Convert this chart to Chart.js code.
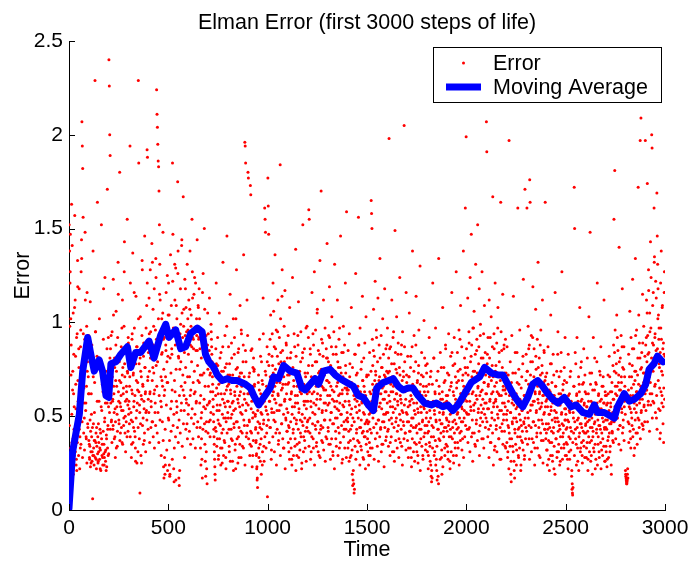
<!DOCTYPE html>
<html>
<head>
<meta charset="utf-8">
<script src="https://cdn.jsdelivr.net/npm/chart.js@4/dist/chart.umd.min.js"></script>
<style>
  html, body { margin: 0; padding: 0; background: #fff; }
  #wrap { width: 690px; height: 563px; }
</style>
</head>
<body>
<div id="wrap"><canvas id="c" width="690" height="563"></canvas></div>
<script>
// Error at odd steps, one row per block of 100 steps.
const errorOddSteps = [
  [1.52,1.38,1.21,1.47,1.02,0.88,1.63,0.36,0.31,0.74,1.05,0.62,0.43,0.29,1.57,1.12,0.82,0.54,0.27,0.21,0.94,1.33,0.69,0.47,0.86,1.18,0.58,0.39,0.33,0.96,1.27,1.44,2.07,1.94,1.82,1.56,0.73,0.65,0.49,0.91,1.48,0.83,0.57,0.38,0.98,1.16,0.79,0.44,0.71,0.93],
  [0.62,0.28,0.34,1.11,0.42,0.25,0.51,0.88,0.31,0.06,1.38,0.46,0.29,0.37,0.68,2.29,0.95,0.36,0.27,0.44,0.82,1.64,0.39,0.26,0.31,0.58,1.02,0.33,0.22,0.41,0.74,1.52,0.53,0.35,0.28,0.63,0.91,0.30,0.24,0.47,1.24,0.57,0.32,0.21,0.38,0.86,1.71,0.43,0.29,0.55],
  [2.40,2.26,2.00,1.89,0.86,0.61,0.47,0.72,0.95,0.58,0.43,1.23,0.66,0.52,0.81,0.39,0.28,0.69,1.06,0.74,0.55,0.34,0.92,1.32,0.63,0.48,0.79,1.80,0.57,0.41,0.68,0.87,0.53,0.36,1.12,0.76,0.62,0.45,0.98,1.43,0.71,0.50,0.31,0.84,0.66,0.59,1.55,0.73,0.42,0.89],
  [0.77,0.54,0.66,1.94,1.21,0.83,0.48,0.35,0.91,0.62,1.37,0.72,0.44,0.58,0.97,0.81,0.39,0.26,1.14,0.69,0.53,0.87,0.64,0.31,2.29,1.85,0.78,0.56,0.09,1.03,0.74,0.61,0.25,0.93,1.28,0.67,0.49,0.82,0.58,0.37,1.46,0.76,0.63,0.52,0.88,1.09,1.92,1.88,0.71,0.59],
  [0.86,1.13,0.74,0.62,1.28,0.95,0.58,0.81,1.42,0.69,0.47,1.07,0.88,0.73,1.18,0.64,0.52,0.96,1.34,0.77,2.24,2.11,2.04,1.95,1.86,1.83,1.70,1.52,1.31,1.12,0.93,0.71,0.55,1.02,0.84,0.66,1.48,0.91,0.75,0.61,0.28,0.19,0.24,0.88,1.16,0.97,0.79,1.25,0.68,1.04],
  [1.21,0.92,0.24,0.18,0.81,1.36,0.73,1.09,0.86,0.64,1.85,1.47,0.97,0.22,0.15,0.69,1.12,0.88,1.29,0.75,0.58,1.02,0.91,1.75,1.38,0.82,0.17,0.13,0.21,0.94,1.18,0.79,0.66,1.41,1.05,0.87,0.72,1.67,0.98,0.61,0.84,1.23,0.93,0.76,1.08,0.57,0.89,1.31,0.71,0.96],
  [0.83,1.12,0.95,0.71,1.38,0.88,0.64,1.04,0.79,1.55,1.27,0.92,0.68,0.86,1.15,0.74,0.97,0.63,1.21,0.85,0.58,0.93,1.44,0.77,0.69,1.08,0.91,1.18,1.02,0.86,0.72,0.61,0.49,0.38,0.27,0.17,0.96,1.26,0.89,0.73,1.50,1.07,0.66,0.54,0.42,0.31,0.22,0.14,0.88,0.75],
  [0.94,0.81,0.57,1.13,0.72,0.48,0.63,0.99,0.91,0.83,0.75,0.67,0.59,0.51,0.43,0.35,0.27,0.19,0.44,0.86,1.21,0.65,0.53,0.38,0.77,0.62,0.29,0.46,1.05,0.71,0.56,0.33,0.84,0.68,0.41,0.25,0.59,1.32,0.74,0.49,0.37,0.62,0.93,0.55,0.28,0.47,0.78,1.46,0.66,0.52],
  [0.58,0.87,0.43,0.31,0.72,1.15,0.64,0.49,0.38,0.81,0.57,0.26,0.69,1.02,0.53,0.44,0.92,0.61,0.35,0.22,0.75,1.28,0.66,0.47,0.59,0.84,0.39,0.28,0.71,0.55,1.09,0.63,0.42,0.96,0.73,0.51,0.34,0.68,0.88,1.36,0.62,0.45,1.96,1.94,1.85,0.79,0.57,0.41,0.66,0.93],
  [1.80,1.77,0.62,0.48,0.73,0.35,1.73,1.68,0.54,0.41,0.86,0.66,0.29,0.52,0.81,0.74,0.66,0.58,0.50,0.43,0.36,0.29,0.22,0.16,0.12,0.47,0.68,0.33,0.57,0.91,0.44,0.26,0.62,0.38,0.79,0.51,0.24,0.67,1.13,0.46,0.34,0.58,1.61,1.55,1.48,0.72,0.53,0.41,0.87,0.07],
  [1.77,1.62,1.47,0.83,0.58,0.44,0.71,1.04,0.66,0.32,0.52,0.94,0.77,1.21,0.63,0.48,0.87,0.59,1.36,0.75,0.41,0.96,0.68,0.53,0.82,1.12,0.61,0.37,0.73,0.92,0.56,1.84,1.02,0.79,0.64,0.46,1.28,0.85,0.67,0.33,0.71,0.98,0.58,1.17,0.76,0.49,0.89,0.62,0.42,0.81],
  [0.67,0.93,0.45,0.31,0.72,1.08,0.59,0.38,0.84,0.62,0.27,0.51,1.24,0.76,0.43,0.69,0.94,0.55,0.34,0.61,1.39,0.82,0.48,0.29,0.66,0.57,0.88,1.11,0.52,0.36,0.74,0.63,0.41,0.95,0.68,0.22,0.47,0.81,1.52,0.64,0.39,0.58,0.86,0.49,0.33,0.71,0.97,0.54,0.44,0.62],
  [0.73,0.48,0.92,1.60,1.55,0.67,0.41,0.83,0.58,0.31,0.69,1.16,0.77,0.52,0.38,0.88,0.63,1.27,0.71,0.45,0.96,0.56,0.34,0.79,1.05,0.62,0.47,0.85,0.68,0.29,0.74,1.33,0.59,0.43,1.70,0.91,0.66,0.53,0.36,0.82,1.12,0.64,0.48,0.75,0.97,0.57,0.39,0.86,0.69,1.42],
  [0.81,0.56,0.42,0.93,0.68,1.19,0.61,0.35,0.77,0.52,0.87,1.03,0.64,0.46,0.29,0.72,0.95,0.58,1.31,0.74,0.49,0.38,0.83,0.66,0.54,1.12,0.79,0.44,0.61,0.91,0.33,0.57,0.76,1.46,0.69,0.51,0.84,0.62,0.27,0.71,0.98,0.55,0.43,0.88,0.65,1.21,0.73,0.48,1.59,0.64],
  [0.62,0.47,0.85,0.36,0.58,0.94,0.71,0.28,0.43,0.67,1.08,0.54,0.32,0.76,0.49,0.21,0.14,0.09,0.11,0.59,0.83,1.26,0.65,0.41,0.52,0.73,0.37,0.61,1.56,0.88,0.56,0.44,0.97,0.63,0.34,0.48,0.79,0.58,1.14,0.69,0.42,0.27,0.66,0.51,0.89,0.39,0.61,1.03,0.47,0.72],
  [0.55,0.38,0.46,0.72,0.29,0.51,0.84,0.43,0.33,0.62,1.65,1.58,1.50,0.91,0.77,0.64,1.07,0.58,0.82,0.69,1.22,0.74,0.53,0.96,0.67,0.41,0.79,1.13,0.62,0.48,0.88,0.71,1.34,0.57,0.44,0.93,0.76,0.35,0.65,1.02,0.59,0.83,0.47,0.72,1.18,0.63,0.51,0.86,0.39,0.74],
  [0.68,0.97,0.52,0.43,0.81,1.98,0.74,0.58,0.36,0.87,0.63,0.49,1.12,0.71,0.55,0.92,0.66,0.31,0.78,0.59,1.49,0.84,0.47,0.62,1.03,0.73,0.42,0.56,0.89,0.65,0.38,0.76,1.24,0.61,0.48,0.83,0.57,0.34,0.69,0.95,0.52,0.74,0.45,2.05,0.87,0.63,0.41,0.59,1.16,0.72],
  [0.64,0.47,0.82,0.55,0.33,0.71,1.05,0.58,0.42,0.76,0.61,0.28,0.49,0.87,1.38,0.66,0.44,0.57,0.93,0.36,0.62,0.51,0.79,1.14,0.45,0.31,0.68,0.54,0.25,0.73,0.96,0.59,0.43,1.30,0.67,0.38,0.52,0.84,0.61,0.47,0.29,0.71,0.55,1.01,0.63,0.41,0.58,0.77,0.35,0.66],
  [0.52,0.78,0.41,0.63,0.29,0.47,0.92,0.56,0.34,0.71,0.24,0.18,0.15,0.45,0.67,1.21,0.58,0.39,0.81,0.53,0.31,0.62,0.97,0.48,0.27,0.21,0.16,0.55,0.74,0.43,1.34,0.66,0.52,0.37,0.84,0.59,0.46,0.28,0.19,0.63,1.08,0.51,0.42,0.76,0.57,0.33,0.69,0.88,0.44,0.61],
  [0.58,0.42,0.73,0.31,0.55,0.94,0.47,0.64,0.26,0.51,0.82,0.39,0.68,1.16,0.53,0.44,0.77,0.29,0.61,0.92,0.48,0.36,0.71,0.57,1.27,0.65,0.43,0.84,0.52,0.33,0.69,0.96,0.58,0.41,0.75,1.09,0.62,0.47,0.87,0.54,0.38,0.72,1.38,0.66,0.49,0.81,0.59,1.61,0.73,1.99],
  [0.86,0.64,0.51,1.13,0.72,0.43,0.95,0.67,0.58,1.24,0.79,0.53,1.47,0.88,0.62,0.41,0.97,0.74,0.56,1.06,0.69,0.35,0.83,1.31,0.61,0.48,0.91,0.73,1.52,0.66,0.54,0.87,1.18,0.71,0.45,0.99,0.63,0.81,0.52,1.27,0.76,0.59,0.38,0.94,0.68,1.09,0.57,0.84,0.72,0.49],
  [2.07,1.91,0.78,0.54,0.92,0.67,0.43,1.12,0.81,0.59,0.36,0.74,1.03,0.62,0.49,0.87,1.67,0.71,0.55,0.94,0.32,0.66,1.21,0.58,0.77,0.45,0.89,0.63,0.51,1.08,0.72,0.38,0.84,0.61,0.27,0.69,1.64,0.95,0.53,0.42,0.76,1.15,0.64,0.48,0.86,0.57,0.73,0.34,0.91,0.62],
  [0.65,0.48,0.87,0.53,0.31,0.72,0.44,1.97,0.61,0.38,0.79,0.52,0.26,0.68,0.93,0.47,0.34,0.59,1.14,0.56,0.21,0.17,0.41,0.73,0.49,0.62,0.32,0.84,0.55,1.61,0.43,0.28,0.67,0.51,0.96,0.39,0.58,0.24,0.45,0.71,0.53,0.36,0.82,1.23,0.47,0.61,0.29,1.71,0.57,0.44],
  [0.83,0.61,1.61,0.74,0.52,0.98,0.67,0.45,0.88,1.76,1.64,0.72,0.56,0.93,0.64,0.38,0.79,1.19,0.58,0.47,0.86,0.69,0.33,0.62,1.07,0.75,0.53,0.41,0.91,0.66,1.32,0.57,0.44,0.81,0.63,0.28,0.72,0.96,0.55,0.48,0.77,1.12,0.61,0.37,0.68,0.85,0.52,0.43,1.64,0.71],
  [0.58,0.41,0.73,0.32,0.55,0.87,0.46,0.27,0.64,0.51,0.36,0.78,1.04,0.53,0.42,0.68,0.29,0.57,0.83,0.44,0.22,0.61,0.49,1.16,0.66,0.38,0.52,0.74,0.31,0.59,0.95,0.47,0.35,0.71,0.56,0.43,0.26,0.62,0.84,0.51,1.27,0.58,0.39,0.67,0.45,0.33,0.76,0.54,0.92,0.48],
  [0.51,0.36,0.68,0.44,0.27,0.59,0.83,0.47,0.31,0.62,0.52,0.38,0.74,0.55,0.42,0.21,0.14,0.08,0.12,0.49,0.66,1.72,1.50,0.57,0.43,0.78,0.35,0.61,0.92,0.48,0.26,0.54,0.71,0.39,0.63,1.08,0.46,0.33,0.58,0.79,0.44,0.29,0.67,0.53,0.37,0.86,0.56,0.41,0.72,0.49],
  [0.46,0.62,0.33,0.55,0.81,0.42,0.27,0.58,1.03,0.48,0.36,1.48,0.67,0.51,0.29,0.73,0.44,0.57,0.39,0.92,0.53,0.31,0.64,0.47,0.22,0.68,0.56,0.41,0.79,1.21,0.52,0.35,0.61,0.45,0.28,0.74,0.58,0.43,0.87,0.54,0.32,0.66,0.49,0.38,0.71,0.57,1.12,0.44,0.26,0.63],
  [0.48,0.34,0.61,0.43,0.27,0.57,0.72,0.39,0.51,0.82,0.46,0.31,0.63,0.55,0.24,0.47,0.68,0.41,0.37,0.59,0.88,1.55,0.74,1.81,0.96,0.62,0.53,0.78,1.04,0.66,0.49,0.85,0.58,0.72,1.40,0.64,0.45,0.81,0.57,0.93,0.68,0.52,1.18,0.76,0.44,0.63,0.87,0.55,0.71,0.59],
  [0.21,0.18,0.16,0.14,0.15,0.19,0.17,0.58,0.83,0.46,0.71,1.06,0.54,0.38,0.92,0.65,0.49,0.77,1.23,0.61,0.43,0.86,0.57,0.33,0.69,1.34,0.74,0.52,0.96,0.63,0.41,0.81,1.72,0.67,0.48,0.89,0.59,1.97,0.75,2.09,0.53,0.84,0.62,1.15,0.45,0.73,0.98,0.56,0.68,0.82],
  [1.97,0.88,0.64,1.12,0.79,1.74,0.93,0.56,1.28,0.84,0.71,1.05,0.62,1.43,0.97,0.76,2.00,1.93,0.89,0.58,1.16,0.81,1.61,1.35,0.92,0.67,1.22,0.85,0.49,1.69,1.46,1.31,1.18,1.04,0.91,0.78,0.65,0.53,0.41,0.97,1.38,0.74,0.61,1.09,0.86,0.55,0.36,0.83,1.27,0.79]
];

// Error at even steps, one row per block of 100 steps.
const errorEvenSteps = [
  [0.45,0.98,1.27,0.33,0.72,0.26,0.51,1.41,0.64,0.38,0.19,0.83,0.55,1.08,0.42,0.31,0.67,0.24,0.92,0.48,0.36,1.19,0.58,0.29,0.76,0.43,0.22,0.61,0.87,0.35,0.52,1.34,0.47,0.28,0.69,0.94,0.41,0.57,0.32,0.81,1.12,0.53,0.39,0.66,0.25,0.74,0.46,0.88,0.62,0.37],
  [0.35,0.27,0.48,0.23,0.31,0.62,0.39,0.26,0.44,0.29,0.71,0.33,0.24,0.52,0.37,0.28,0.95,0.41,0.22,0.34,0.58,0.30,0.25,0.46,0.36,0.81,0.27,0.43,0.32,0.21,0.55,0.38,0.29,0.67,0.24,0.42,1.18,0.35,0.28,0.49,0.31,0.26,0.74,0.40,0.23,0.57,0.33,0.45,0.92,0.30],
  [0.64,0.52,0.81,0.43,0.57,0.93,0.48,0.36,0.71,0.59,0.45,1.04,0.62,0.38,0.76,0.54,0.47,0.88,0.33,0.66,0.51,0.42,0.79,1.15,0.58,0.46,0.69,0.37,0.84,0.55,0.61,0.44,0.97,0.72,0.35,0.53,0.65,0.49,1.27,0.78,0.41,0.58,0.86,0.47,0.63,0.39,0.74,0.56,0.92,0.51],
  [0.58,0.46,0.71,0.39,0.83,0.52,0.28,0.64,0.94,0.47,0.36,0.73,0.55,1.16,0.42,0.61,0.33,0.78,0.49,0.87,0.25,0.57,0.68,0.44,1.02,0.63,0.38,0.52,0.81,0.46,0.29,0.71,0.59,1.33,0.45,0.66,0.35,0.89,0.54,0.41,0.76,0.62,0.31,0.97,0.53,0.48,1.21,0.69,0.43,0.84],
  [0.52,0.94,0.36,0.63,0.81,0.44,0.55,0.88,0.47,1.32,0.76,0.39,0.98,0.62,0.33,0.84,0.57,0.45,1.24,0.91,0.66,0.41,0.79,0.52,1.02,0.36,0.61,1.15,0.48,0.94,0.58,0.29,0.83,0.69,0.47,1.05,0.37,0.23,0.17,0.92,0.64,0.43,0.71,0.85,0.56,0.32,0.68,0.21,0.82,0.49],
  [0.48,1.04,0.37,0.19,0.93,0.54,0.42,0.58,0.83,0.27,1.22,0.45,0.96,0.51,0.33,1.31,0.63,0.39,0.16,1.09,0.52,0.55,0.44,1.26,0.36,0.81,0.48,0.61,0.75,0.41,0.99,0.53,0.57,1.44,0.34,0.92,0.64,0.46,1.07,0.53,0.28,0.68,1.18,0.43,0.59,0.95,0.46,0.38,1.02,0.51],
  [0.56,0.94,0.42,1.07,0.61,0.35,0.98,0.49,0.87,0.54,1.13,0.38,0.91,0.46,0.62,1.24,0.51,0.33,0.96,0.57,1.02,0.44,0.85,0.47,1.09,0.39,0.92,0.68,0.57,0.44,0.33,0.24,0.81,0.52,0.72,1.16,0.43,0.86,0.55,0.59,0.46,0.35,0.26,0.18,0.93,0.47,0.82,0.56,1.05,0.41],
  [0.66,0.47,0.85,0.58,0.39,0.73,0.52,0.95,0.87,0.79,0.71,0.63,0.55,0.47,0.39,0.31,0.23,0.16,0.61,0.42,0.78,0.34,0.56,0.92,0.48,0.27,0.67,0.53,0.38,0.81,0.45,0.24,0.62,0.74,0.33,0.51,0.87,0.43,0.29,0.69,0.57,0.36,0.76,0.49,0.22,0.64,0.98,0.41,0.58,0.72],
  [0.49,0.67,0.34,0.78,0.55,0.26,0.62,0.43,0.89,0.51,0.37,0.72,0.58,0.21,0.46,0.83,0.63,0.32,0.54,1.02,0.47,0.69,0.38,0.76,0.25,0.57,0.86,0.44,0.61,0.35,0.73,0.52,0.28,0.94,0.66,0.41,0.56,0.79,0.33,0.48,0.71,0.59,0.24,0.85,0.53,0.39,0.67,1.12,0.45,0.62],
  [0.56,0.38,0.71,0.47,0.29,0.63,0.42,0.85,0.34,0.58,0.23,0.49,0.76,0.37,0.61,0.75,0.67,0.59,0.51,0.44,0.37,0.30,0.23,0.17,0.53,0.41,0.72,0.28,0.64,0.46,0.35,0.82,0.52,0.19,0.43,0.69,0.31,0.57,0.94,0.48,0.26,0.62,0.39,0.74,0.55,0.33,0.66,0.45,0.79,0.51],
  [0.63,0.48,0.77,0.36,0.58,0.91,0.44,0.69,0.27,0.54,0.82,0.61,0.39,0.73,1.06,0.52,0.31,0.66,0.47,0.86,0.57,0.24,0.71,0.43,0.95,0.62,0.35,0.78,0.53,0.41,0.68,0.29,0.84,0.56,0.46,1.14,0.65,0.38,0.74,0.51,0.33,0.79,0.59,0.22,0.67,0.48,0.88,0.54,0.42,0.72],
  [0.52,0.36,0.68,0.44,0.27,0.59,0.81,0.47,0.33,0.63,0.24,0.55,0.74,0.41,0.29,0.66,0.49,0.87,0.38,0.57,0.21,0.46,0.72,0.35,0.61,0.93,0.43,0.28,0.54,0.69,0.32,0.48,0.79,0.39,0.62,0.25,0.51,0.84,0.45,0.31,0.67,0.56,0.37,0.73,0.42,0.58,0.26,0.64,0.98,0.47],
  [0.58,0.42,0.77,0.34,0.63,0.49,0.86,0.27,0.55,0.71,0.39,0.62,0.46,0.94,0.33,0.57,0.68,0.24,0.51,0.79,0.43,0.66,0.36,0.59,1.07,0.47,0.31,0.73,0.54,0.41,0.83,0.28,0.61,0.45,0.75,0.37,0.52,0.89,0.44,0.65,0.32,0.57,0.72,0.48,0.26,0.64,0.53,0.81,0.38,0.69],
  [0.61,0.44,0.79,0.35,0.57,0.92,0.48,0.27,0.66,0.52,0.38,0.74,0.59,0.31,0.83,0.46,0.63,0.22,0.55,0.71,0.42,0.87,0.34,0.58,0.49,0.68,0.29,0.76,0.53,0.41,0.97,0.62,0.36,0.51,0.73,0.45,0.25,0.64,0.56,0.84,0.39,0.47,0.69,0.33,0.58,0.77,0.43,0.28,0.65,0.52],
  [0.49,0.33,0.64,0.42,0.26,0.56,0.78,0.37,0.51,0.29,0.68,0.45,0.19,0.13,0.16,0.38,0.61,0.47,0.83,0.34,0.55,0.27,0.72,0.43,0.58,0.31,0.66,0.49,0.88,0.36,0.53,0.24,0.62,0.44,0.75,0.32,0.57,0.41,0.69,0.28,0.52,0.81,0.39,0.63,0.46,0.22,0.59,0.35,0.71,0.48],
  [0.42,0.31,0.56,0.24,0.47,0.36,0.63,0.29,0.52,0.74,0.41,0.58,0.33,0.67,0.49,0.85,0.44,0.27,0.61,0.53,0.38,0.72,0.46,0.92,0.57,0.34,0.64,0.48,0.26,0.69,0.55,0.39,0.81,0.43,0.62,0.31,0.54,0.76,0.47,0.35,0.66,0.51,0.23,0.59,0.44,0.71,0.37,0.63,0.52,0.88],
  [0.57,0.42,0.73,0.34,0.61,0.48,0.86,0.29,0.55,0.67,0.39,0.78,0.46,0.31,0.63,0.52,0.95,0.44,0.26,0.69,0.54,0.37,0.75,0.49,0.62,0.33,0.58,0.83,0.45,0.28,0.66,0.51,0.72,0.36,0.59,0.43,0.88,0.53,0.24,0.64,0.47,0.71,0.38,0.56,0.79,0.41,0.65,0.32,0.52,0.68],
  [0.51,0.37,0.64,0.28,0.47,0.71,0.42,0.56,0.33,0.82,0.45,0.23,0.59,0.38,0.67,0.49,0.31,0.74,0.53,0.26,0.62,0.44,0.88,0.35,0.57,0.41,0.69,0.29,0.52,0.77,0.46,0.36,0.63,0.21,0.55,0.43,0.72,0.34,0.58,0.48,0.27,0.66,0.39,0.54,0.81,0.45,0.32,0.61,0.49,0.73],
  [0.45,0.31,0.58,0.22,0.42,0.67,0.36,0.53,0.26,0.49,0.74,0.39,0.21,0.17,0.33,0.56,0.44,0.81,0.29,0.51,0.63,0.37,0.24,0.47,0.69,0.34,0.57,0.43,0.18,0.14,0.38,0.62,0.48,0.27,0.55,0.41,0.76,0.32,0.46,0.59,0.23,0.52,0.39,0.68,0.44,0.29,0.57,0.86,0.35,0.49],
  [0.48,0.34,0.61,0.27,0.45,0.72,0.39,0.56,0.22,0.43,0.66,0.31,0.52,0.84,0.38,0.47,0.63,0.25,0.54,0.41,0.78,0.33,0.59,0.46,0.29,0.68,0.51,0.36,0.74,0.44,0.57,0.24,0.49,0.91,0.37,0.62,0.42,0.55,0.32,0.69,0.47,0.58,0.28,0.64,0.53,0.39,0.76,0.45,0.61,0.52],
  [0.58,0.43,0.76,0.36,0.62,0.51,0.89,0.44,0.31,0.67,0.55,0.82,0.39,0.71,0.48,0.26,0.63,0.97,0.53,0.41,0.74,0.57,0.34,0.69,0.46,0.85,0.59,0.37,0.65,0.52,0.78,0.42,0.29,0.61,0.93,0.49,0.56,0.72,0.38,0.64,0.47,0.81,0.54,0.33,0.68,0.51,0.76,0.44,0.62,0.57],
  [0.62,0.47,0.83,0.39,0.66,0.54,0.28,0.71,0.58,0.92,0.45,0.36,0.69,0.52,0.77,0.41,0.63,0.24,0.57,0.86,0.48,0.34,0.74,0.59,0.43,0.68,0.31,0.55,0.97,0.49,0.62,0.38,0.79,0.53,0.44,0.72,0.27,0.61,0.85,0.46,0.57,0.35,0.66,0.51,0.88,0.42,0.64,0.55,0.33,0.73],
  [0.51,0.36,0.67,0.28,0.45,0.58,0.22,0.41,0.63,0.34,0.52,0.19,0.15,0.38,0.57,0.46,0.73,0.31,0.49,0.26,0.62,0.43,0.84,0.35,0.54,0.24,0.47,0.68,0.39,0.56,0.29,0.75,0.44,0.33,0.59,0.48,0.21,0.65,0.37,0.53,0.42,0.78,0.32,0.57,0.46,0.27,0.61,0.49,0.38,0.69],
  [0.57,0.42,0.74,0.35,0.61,0.49,0.86,0.38,0.27,0.65,0.53,0.79,0.44,0.31,0.68,0.56,0.92,0.47,0.36,0.71,0.58,0.24,0.63,0.45,0.82,0.52,0.39,0.67,0.33,0.59,0.76,0.48,0.29,0.62,0.54,0.88,0.41,0.66,0.37,0.57,0.73,0.46,0.25,0.61,0.51,0.84,0.43,0.69,0.55,0.38],
  [0.46,0.32,0.59,0.24,0.43,0.67,0.37,0.51,0.21,0.44,0.63,0.29,0.55,0.78,0.36,0.48,0.26,0.61,0.41,0.72,0.34,0.53,0.19,0.47,0.66,0.38,0.57,0.28,0.49,0.83,0.42,0.31,0.62,0.45,0.24,0.56,0.39,0.74,0.33,0.52,0.46,0.27,0.64,0.41,0.58,0.35,0.69,0.48,0.29,0.54],
  [0.43,0.29,0.57,0.35,0.48,0.22,0.61,0.39,0.53,0.27,0.71,0.44,0.32,0.58,0.18,0.11,0.09,0.36,0.52,0.41,0.66,0.29,0.47,0.84,0.38,0.55,0.24,0.62,0.44,0.33,0.58,0.49,0.21,0.67,0.41,0.54,0.31,0.76,0.46,0.36,0.59,0.25,0.51,0.42,0.68,0.34,0.57,0.28,0.63,0.45],
  [0.41,0.28,0.55,0.36,0.47,0.21,0.62,0.39,0.52,0.31,0.73,0.44,0.26,0.58,0.37,0.49,0.19,0.64,0.42,0.33,0.56,0.46,0.81,0.35,0.51,0.27,0.67,0.43,0.57,0.24,0.48,0.39,0.62,0.31,0.54,0.45,0.72,0.36,0.22,0.59,0.41,0.51,0.29,0.66,0.47,0.34,0.57,0.43,0.26,0.61],
  [0.44,0.31,0.56,0.23,0.48,0.37,0.62,0.28,0.53,0.41,0.71,0.34,0.57,0.46,0.19,0.63,0.42,0.52,0.77,0.36,0.59,0.47,0.84,0.55,0.66,0.38,0.73,0.49,0.61,0.92,0.52,0.43,0.68,0.35,0.79,0.56,0.45,0.64,0.32,0.71,0.54,0.87,0.41,0.62,0.48,0.75,0.37,0.58,0.66,0.51],
  [0.19,0.17,0.15,0.14,0.16,0.22,0.47,0.64,0.36,0.55,0.78,0.42,0.61,0.33,0.52,0.71,0.45,0.86,0.39,0.58,0.67,0.29,0.54,0.74,0.48,0.93,0.41,0.63,0.56,0.35,0.72,0.49,0.61,1.04,0.44,0.57,0.81,0.38,0.66,0.52,0.76,0.46,0.59,0.89,0.43,0.68,0.55,0.73,0.47,0.62],
  [0.71,0.53,0.92,0.64,1.05,0.47,0.83,0.58,1.17,0.76,0.42,0.95,0.68,0.56,1.24,0.81,0.62,0.49,1.09,0.74,0.88,0.57,1.32,0.66,0.94,0.52,0.79,1.13,0.61,0.43,0.86,1.02,0.69,0.54,0.97,0.76,0.38,0.84,1.21,0.63,0.91,0.57,1.08,0.72,0.46,0.89,0.65,1.16,0.59,0.82]
];

// Moving average of the error, sampled along time.
const avgTime = [0,18,52,69,94,110,127,152,169,186,200,211,236,261,294,311,336,361,403,428,461,487,503,537,562,587,612,646,670,687,704,729,746,771,796,821,846,888,913,930,955,980,1013,1030,1055,1080,1114,1147,1172,1189,1214,1239,1256,1281,1314,1340,1365,1398,1431,1456,1481,1507,1532,1549,1582,1632,1657,1682,1707,1732,1757,1790,1824,1849,1882,1907,1932,1958,1991,2025,2067,2092,2126,2159,2184,2209,2234,2259,2284,2309,2334,2359,2384,2410,2435,2460,2493,2527,2552,2586,2619,2644,2661,2694,2728,2745,2761,2795,2820,2845,2878,2903,2920,2945,2962,2979,2990];
const avgValue = [0.01,0.31,0.51,0.74,0.92,0.83,0.74,0.80,0.74,0.61,0.60,0.78,0.79,0.83,0.87,0.76,0.84,0.84,0.90,0.81,0.93,0.99,0.92,0.96,0.86,0.87,0.94,0.97,0.95,0.83,0.79,0.76,0.72,0.69,0.70,0.69,0.69,0.67,0.65,0.61,0.56,0.60,0.65,0.71,0.70,0.77,0.74,0.73,0.65,0.64,0.67,0.70,0.67,0.74,0.75,0.72,0.70,0.68,0.66,0.61,0.60,0.56,0.53,0.65,0.68,0.70,0.66,0.64,0.65,0.65,0.61,0.57,0.56,0.57,0.55,0.56,0.53,0.56,0.62,0.68,0.71,0.76,0.73,0.72,0.72,0.67,0.62,0.58,0.55,0.60,0.67,0.69,0.66,0.62,0.59,0.57,0.60,0.55,0.56,0.52,0.51,0.56,0.52,0.52,0.50,0.49,0.55,0.62,0.58,0.59,0.62,0.67,0.75,0.78,0.82,0.80,0.79];

const xTicks = [0, 500, 1000, 1500, 2000, 2500, 3000];
const yTicks = [0, 0.5, 1, 1.5, 2, 2.5];

const TITLE = 'Elman Error (first 3000 steps of life)';
const X_LABEL = 'Time';
const Y_LABEL = 'Error';
const FONT = '"Liberation Sans", Arial, Helvetica, sans-serif';

const BLOCK = 100, SPACING = 2;
const errorPoints = [];
function addRows(rows, firstStep) {
  rows.forEach((row, b) => {
    row.forEach((v, j) => errorPoints.push({ x: b * BLOCK + firstStep + j * SPACING, y: v }));
  });
}
addRows(errorOddSteps, 1);
addRows(errorEvenSteps, 2);

const n = Math.min(avgTime.length, avgValue.length);
const avgPoints = [];
for (let i = 0; i < n; i++) avgPoints.push({ x: avgTime[i], y: avgValue[i] });

// Inward tick marks, titles and the boxed legend.
const decorations = {
  id: 'decorations',
  afterDatasetsDraw(chart) {
    const { ctx, chartArea: a, scales } = chart;
    ctx.save();
    ctx.strokeStyle = '#000';
    ctx.lineWidth = 1;
    ctx.beginPath();
    xTicks.forEach(t => {
      const x = Math.round(scales.x.getPixelForValue(t)) + 0.5;
      ctx.moveTo(x, a.bottom); ctx.lineTo(x, a.bottom - 6);
    });
    yTicks.forEach(t => {
      const y = Math.round(scales.y.getPixelForValue(t)) + 0.5;
      ctx.moveTo(a.left, y); ctx.lineTo(a.left + 6, y);
    });
    ctx.stroke();

    ctx.fillStyle = '#000';
    ctx.font = '21.5px ' + FONT;
    ctx.textAlign = 'center';
    ctx.textBaseline = 'alphabetic';
    ctx.fillText(TITLE, (a.left + a.right) / 2, 29);
    ctx.fillText(X_LABEL, (a.left + a.right) / 2, 556);
    ctx.save();
    ctx.translate(29, (a.top + a.bottom) / 2);
    ctx.rotate(-Math.PI / 2);
    ctx.fillText(Y_LABEL, 0, 0);
    ctx.restore();

    // legend
    const ds = chart.data.datasets;
    const bx = 433.5, by = 47.5, bw = 228, bh = 55;
    ctx.fillStyle = '#fff';
    ctx.fillRect(bx, by, bw, bh);
    ctx.strokeStyle = '#000';
    ctx.lineWidth = 1;
    ctx.strokeRect(bx, by, bw, bh);
    ctx.textAlign = 'left';
    ctx.textBaseline = 'middle';
    const errDs = ds[1], avgDs = ds[0];
    ctx.fillStyle = errDs.backgroundColor;
    ctx.beginPath();
    ctx.arc(463.5, 63, errDs.pointRadius, 0, Math.PI * 2);
    ctx.fill();
    ctx.fillStyle = '#000';
    ctx.fillText(errDs.label, 493, 64);
    ctx.strokeStyle = avgDs.borderColor;
    ctx.lineWidth = avgDs.borderWidth;
    ctx.beginPath();
    ctx.moveTo(446, 87); ctx.lineTo(481, 87);
    ctx.stroke();
    ctx.fillText(avgDs.label, 493, 88);
    ctx.restore();
  }
};

new Chart(document.getElementById('c'), {
  type: 'scatter',
  data: {
    datasets: [
      {
        label: 'Moving Average',
        data: avgPoints,
        showLine: true,
        borderColor: '#0000ff',
        backgroundColor: '#0000ff',
        borderWidth: 7,
        pointRadius: 0,
        borderJoinStyle: 'round',
        borderCapStyle: 'round',
        tension: 0,
        order: 0
      },
      {
        label: 'Error',
        data: errorPoints,
        showLine: false,
        backgroundColor: '#ff0000',
        borderWidth: 0,
        pointRadius: 1.5,
        order: 1
      }
    ]
  },
  options: {
    responsive: false,
    animation: false,
    events: [],
    layout: { padding: { top: 41, right: 25, left: 0, bottom: 0 } },
    plugins: { legend: { display: false }, tooltip: { enabled: false }, title: { display: false } },
    scales: {
      x: {
        type: 'linear', min: 0, max: 3000,
        afterBuildTicks: s => { s.ticks = xTicks.map(v => ({ value: v })); },
        afterFit: s => { s.height = 53; s.paddingLeft = 0; s.paddingRight = 0; },
        grid: { display: false, drawTicks: false },
        border: { display: true, color: '#000', width: 1 },
        ticks: { color: '#000', font: { size: 21, family: FONT }, padding: 6, maxRotation: 0, autoSkip: false,
                 callback: v => String(v) }
      },
      y: {
        type: 'linear', min: 0, max: 2.5,
        afterBuildTicks: s => { s.ticks = yTicks.map(v => ({ value: v })); },
        afterFit: s => { s.width = 69; s.paddingTop = 0; s.paddingBottom = 0; },
        grid: { display: false, drawTicks: false },
        border: { display: true, color: '#000', width: 1 },
        ticks: { color: '#000', font: { size: 21, family: FONT }, padding: 6, autoSkip: false,
                 callback: v => String(v) }
      }
    }
  },
  plugins: [decorations]
});
</script>
</body>
</html>
